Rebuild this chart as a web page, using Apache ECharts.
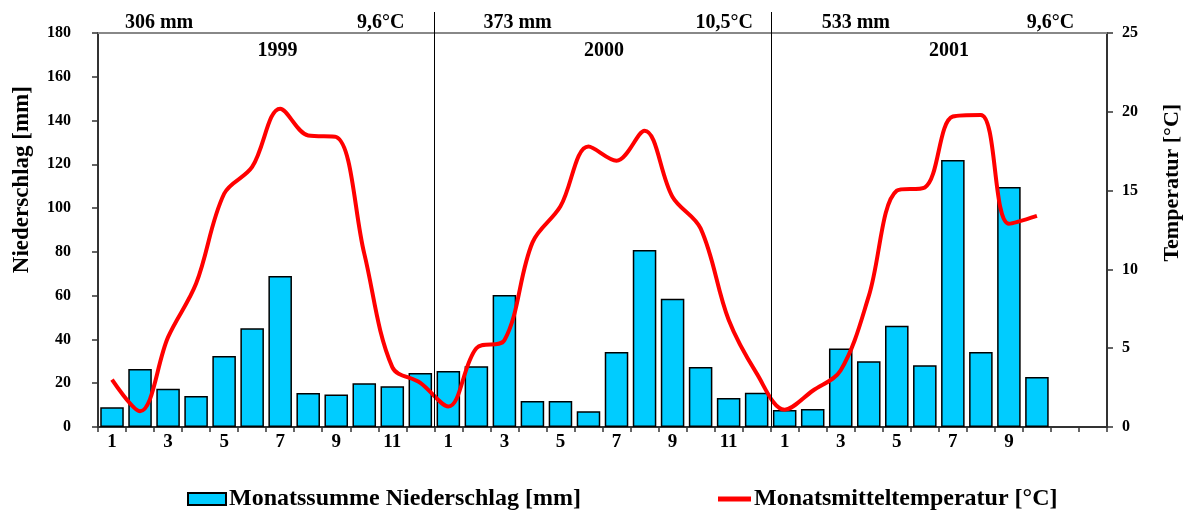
<!DOCTYPE html>
<html>
<head>
<meta charset="utf-8">
<script src="https://cdn.jsdelivr.net/npm/echarts@6/dist/echarts.min.js"></script>
<style>
  html, body { margin: 0; padding: 0; background: #fff; }
  #chart { width: 1184px; height: 512px; }
</style>
</head>
<body>
<div id="chart"></div>
<script>
// data
var months = ['1','2','3','4','5','6','7','8','9','10','11','12'];
var years = ['1999', '2000', '2001'];
var yearSums = ['306 mm', '373 mm', '533 mm'];
var yearTemps = ['9,6°C', '10,5°C', '9,6°C'];

var precip1999 = [9.0, 26.5, 17.5, 14.2, 32.4, 45.1, 69.0, 15.5, 14.8, 20.0, 18.6, 24.7];
var precip2000 = [25.6, 27.7, 60.3, 11.9, 11.9, 7.2, 34.3, 80.9, 58.6, 27.4, 13.2, 15.7];
var precip2001 = [7.8, 8.2, 35.9, 30.0, 46.3, 28.2, 122.0, 34.3, 109.6, 22.8];

var temp1999 = [3.0, 1.0, 5.7, 9.1, 14.8, 16.5, 20.2, 18.5, 18.4, 11.0, 3.8, 2.8];
var temp2000 = [1.3, 5.0, 5.5, 11.7, 14.0, 17.8, 16.9, 18.8, 14.6, 12.6, 6.8, 3.4];
var temp2001 = [1.1, 2.3, 3.6, 8.3, 15.0, 15.2, 19.7, 19.8, 12.9, 13.4];

var precipMax = 180, precipStep = 20;
var tempMax = 25, tempStep = 5;

// layout of the annotations (month slots from the start of each year)
var sumOffset = [0.96, 1.75, 1.82];
var tempOffset = [10.93, 11.37, 10.83];
var yearOffset = [6.4, 6.05, 6.36];

var categories = [];
years.forEach(function () { categories = categories.concat(months); });

function pad(arr) {
  var out = arr.slice();
  while (out.length < 12) out.push(null);
  return out;
}
var precipAll = pad(precip1999).concat(pad(precip2000), pad(precip2001));
var tempAll = pad(temp1999).concat(pad(temp2000), pad(temp2001));
var lastMonth = 24 + precip2001.length;

var serif = '"Liberation Serif", "Times New Roman", serif';

var option = {
  animation: false,
  backgroundColor: '#fff',
  textStyle: { fontFamily: serif, fontWeight: 'bold', color: '#000' },
  grid: { left: 98, right: 77, top: 33, bottom: 85, outerBoundsMode: 'none', containLabel: false },
  legend: [
    {
      data: [{ name: 'Monatssumme Niederschlag [mm]', icon: 'rect' }],
      left: 187, top: 487, padding: 0,
      itemWidth: 38, itemHeight: 12, itemGap: 4,
      textStyle: { fontFamily: serif, fontWeight: 'bold', fontSize: 24, color: '#000', padding: [0, 0, 0, -2] }
    },
    {
      data: [{ name: 'Monatsmitteltemperatur [°C]', icon: 'rect', itemStyle: { color: '#ff0000', borderWidth: 0 } }],
      left: 718, top: 487, padding: 0,
      itemWidth: 33, itemHeight: 5, itemGap: 4,
      textStyle: { fontFamily: serif, fontWeight: 'bold', fontSize: 24, color: '#000', padding: [0, 0, 0, -2] }
    }
  ],
  xAxis: [
    {
      type: 'category',
      data: categories,
      position: 'bottom',
      axisLine: { lineStyle: { color: '#333', width: 2 } },
      axisTick: { show: true, interval: 0, length: 5, lineStyle: { color: '#333', width: 1.5 } },
      axisLabel: {
        interval: 1, margin: 6, fontFamily: serif, fontWeight: 'bold', fontSize: 19, color: '#000',
        formatter: function (v, i) { return i >= lastMonth ? '' : v; }
      },
      splitLine: { show: false }
    },
    {
      type: 'value',
      min: 0, max: 36,
      position: 'top',
      axisLine: { show: true, onZero: false, lineStyle: { color: '#888', width: 2 } },
      axisTick: { show: false },
      axisLabel: { show: false },
      splitLine: { show: false }
    }
  ],
  yAxis: [
    {
      type: 'value',
      min: 0, max: precipMax, interval: precipStep,
      axisLine: { show: true, lineStyle: { color: '#333', width: 2 } },
      axisTick: { show: true, length: 6, lineStyle: { color: '#333', width: 1.5 } },
      axisLabel: { margin: 27, fontFamily: serif, fontWeight: 'bold', fontSize: 16, color: '#000' },
      splitLine: { show: false }
    },
    {
      type: 'value',
      min: 0, max: tempMax, interval: tempStep,
      axisLine: { show: true, lineStyle: { color: '#333', width: 2 } },
      axisTick: { show: true, length: 6, lineStyle: { color: '#333', width: 1.5 } },
      axisLabel: { margin: 15, fontFamily: serif, fontWeight: 'bold', fontSize: 16, color: '#000' },
      splitLine: { show: false }
    }
  ],
  series: [
    {
      name: 'Monatssumme Niederschlag [mm]',
      type: 'bar',
      data: precipAll,
      barCategoryGap: '16%',
      itemStyle: { color: '#00ccff', borderColor: '#000', borderWidth: 1.5 }
    },
    {
      name: 'Monatsmitteltemperatur [°C]',
      type: 'line',
      yAxisIndex: 1,
      data: tempAll,
      smooth: 0.35,
      showSymbol: false,
      symbol: 'none',
      lineStyle: { color: '#ff0000', width: 4 },
      itemStyle: { color: '#ff0000' },
      z: 5
    }
  ]
};

var chart = echarts.init(document.getElementById('chart'));
chart.setOption(option);

// year dividers, annotations and axis names, placed through the axes
var bottomY = chart.convertToPixel({ yAxisIndex: 0 }, 0);
var leftX = chart.convertToPixel({ xAxisIndex: 1 }, 0);
var rightX = chart.convertToPixel({ xAxisIndex: 1 }, 36);
var els = [];
[12, 24].forEach(function (v) {
  var x = Math.round(chart.convertToPixel({ xAxisIndex: 1 }, v)) + 0.5;
  els.push({
    type: 'line',
    shape: { x1: x, y1: 12, x2: x, y2: bottomY },
    style: { stroke: '#000', lineWidth: 1 },
    z: 10
  });
});
var fontTop = 'bold 20px ' + serif;
years.forEach(function (y, i) {
  var start = i * 12;
  els.push({
    type: 'text',
    style: {
      text: yearSums[i], font: fontTop, fill: '#000',
      x: chart.convertToPixel({ xAxisIndex: 1 }, start + sumOffset[i]), y: 23,
      textAlign: 'left', textVerticalAlign: 'middle'
    },
    z: 10
  });
  els.push({
    type: 'text',
    style: {
      text: yearTemps[i], font: fontTop, fill: '#000',
      x: chart.convertToPixel({ xAxisIndex: 1 }, start + tempOffset[i]), y: 23,
      textAlign: 'right', textVerticalAlign: 'middle'
    },
    z: 10
  });
  els.push({
    type: 'text',
    style: {
      text: y, font: fontTop, fill: '#000',
      x: chart.convertToPixel({ xAxisIndex: 1 }, start + yearOffset[i]), y: 51,
      textAlign: 'center', textVerticalAlign: 'middle'
    },
    z: 10
  });
});
els.push({
  type: 'text',
  x: leftX - 76, y: chart.convertToPixel({ yAxisIndex: 0 }, 113),
  rotation: Math.PI / 2,
  style: {
    text: 'Niederschlag [mm]', font: 'bold 23px ' + serif, fill: '#000',
    x: 0, y: 0, textAlign: 'center', textVerticalAlign: 'middle'
  }
});
els.push({
  type: 'text',
  x: rightX + 65, y: chart.convertToPixel({ yAxisIndex: 1 }, 15.5),
  rotation: Math.PI / 2,
  style: {
    text: 'Temperatur [°C]', font: 'bold 22px ' + serif, fill: '#000',
    x: 0, y: 0, textAlign: 'center', textVerticalAlign: 'middle'
  }
});
chart.setOption({ graphic: els });
</script>
</body>
</html>
